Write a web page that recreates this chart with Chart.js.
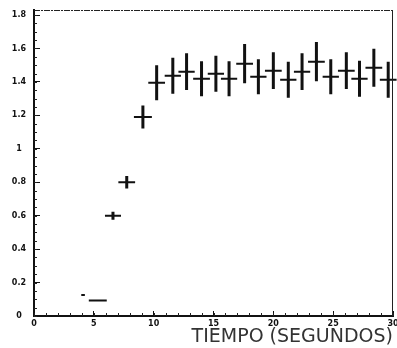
<!DOCTYPE html>
<html>
<head>
<meta charset="utf-8">
<script src="https://cdn.jsdelivr.net/npm/chart.js@4/dist/chart.umd.min.js"></script>
<style>
  html, body { margin: 0; padding: 0; background: #fff; }
  #wrap { width: 397px; height: 348px; }
</style>
</head>
<body>
<div id="wrap"><canvas id="chart" width="397" height="348"></canvas></div>
<script>
// valores
var tiempo = [4.1, 5.33, 6.6, 7.75, 9.1, 10.25, 11.6, 12.75, 14.0, 15.2, 16.3, 17.6, 18.75, 20.0, 21.25, 22.4, 23.6, 24.8, 26.1, 27.2, 28.4, 29.6];
var valor = [0.126, 0.093, 0.60, 0.80, 1.19, 1.395, 1.437, 1.461, 1.419, 1.449, 1.419, 1.509, 1.431, 1.467, 1.413, 1.461, 1.521, 1.431, 1.467, 1.419, 1.485, 1.413];
var errTiempo = [0.15, 0.75, 0.67, 0.7, 0.75, 0.7, 0.68, 0.68, 0.7, 0.68, 0.68, 0.7, 0.68, 0.7, 0.68, 0.68, 0.7, 0.68, 0.7, 0.68, 0.7, 0.7];
var errValor = [0, 0, 0.024, 0.037, 0.069, 0.105, 0.108, 0.11, 0.105, 0.108, 0.105, 0.117, 0.105, 0.11, 0.108, 0.11, 0.117, 0.105, 0.11, 0.108, 0.114, 0.108];

var xTicks = [0, 5, 10, 15, 20, 25, 30];
var yTicks = [0, 0.2, 0.4, 0.6, 0.8, 1, 1.2, 1.4, 1.6, 1.8];
var tituloX = 'TIEMPO (SEGUNDOS)';

function buildBars(horizontal) {
  var out = [];
  tiempo.forEach(function (t, i) {
    if (horizontal) {
      out.push({ x: t - errTiempo[i], y: valor[i] });
      out.push({ x: t + errTiempo[i], y: valor[i] });
    } else {
      if (!errValor[i]) return;
      out.push({ x: t, y: valor[i] - errValor[i] });
      out.push({ x: t, y: valor[i] + errValor[i] });
    }
    out.push({ x: t, y: null });
  });
  return out;
}

var minorY = [];
for (var k = 0; k <= 36; k++) minorY.push(k * 0.05);
var minorX = [];
for (var m = 0; m <= 30; m++) minorX.push(m);

var frame = {
  id: 'frame',
  afterDraw: function (chart) {
    var a = chart.chartArea, ctx = chart.ctx;
    var xs = chart.scales.x, ys = chart.scales.y;
    ctx.save();
    ctx.strokeStyle = '#222';
    ctx.lineWidth = 1;
    ctx.beginPath();
    ctx.setLineDash([6, 1, 2, 1]);
    ctx.moveTo(a.left, a.top + 0.5);
    ctx.lineTo(a.right, a.top + 0.5);
    ctx.stroke();
    ctx.setLineDash([]);
    ctx.beginPath();
    ctx.moveTo(a.right - 0.5, a.top);
    ctx.lineTo(a.right - 0.5, a.bottom);
    ctx.stroke();
    ctx.beginPath();
    minorY.forEach(function (v) {
      var py = Math.round(ys.getPixelForValue(v)) + 0.5;
      ctx.moveTo(a.left, py);
      ctx.lineTo(a.left + 3, py);
    });
    minorX.forEach(function (v) {
      var px = Math.round(xs.getPixelForValue(v)) + 0.5;
      ctx.moveTo(px, a.bottom);
      ctx.lineTo(px, a.bottom - 3);
    });
    ctx.stroke();
    ctx.restore();
  }
};

new Chart(document.getElementById('chart'), {
  type: 'scatter',
  data: {
    datasets: [{
      data: buildBars(false),
      showLine: true,
      borderColor: '#111',
      borderWidth: 3,
      pointRadius: 0,
      spanGaps: false,
      clip: false
    }, {
      data: buildBars(true),
      showLine: true,
      borderColor: '#111',
      borderWidth: 2,
      pointRadius: 0,
      spanGaps: false,
      clip: false
    }]
  },
  options: {
    responsive: false,
    animation: false,
    events: [],
    layout: { padding: { top: 10, right: 4, left: 0, bottom: 0 } },
    plugins: { legend: { display: false }, tooltip: { enabled: false } },
    scales: {
      x: {
        type: 'linear',
        min: 0,
        max: 30,
        afterBuildTicks: function (s) { s.ticks = xTicks.map(function (v) { return { value: v }; }); },
        afterFit: function (s) { s.height = 32; s.paddingLeft = 0; s.paddingRight = 0; },
        border: { display: true, color: '#111', width: 2 },
        grid: { drawOnChartArea: false, drawTicks: true, tickLength: -5, tickColor: '#111' },
        ticks: {
          autoSkip: false,
          maxRotation: 0,
          padding: 8,
          color: '#111',
          font: { family: 'DejaVu Sans', size: 8, weight: 'bold' },
          callback: function (v) { return String(v); }
        },
        title: {
          display: true,
          text: tituloX,
          align: 'end',
          color: '#333',
          padding: { top: 0, bottom: 0 },
          font: { family: 'DejaVu Sans', size: 19, weight: 'normal' }
        }
      },
      y: {
        type: 'linear',
        min: 0,
        max: 1.83,
        afterBuildTicks: function (s) { s.ticks = yTicks.map(function (v) { return { value: v }; }); },
        afterFit: function (s) { s.width = 34; s.paddingTop = 0; s.paddingBottom = 0; },
        border: { display: true, color: '#111', width: 2 },
        grid: { drawOnChartArea: false, drawTicks: true, tickLength: -6, tickColor: '#111' },
        ticks: {
          autoSkip: false,
          padding: 14,
          crossAlign: 'center',
          color: '#111',
          font: { family: 'DejaVu Sans', size: 8, weight: 'bold' },
          callback: function (v) { return String(v); }
        }
      }
    }
  },
  plugins: [frame]
});
</script>
</body>
</html>
